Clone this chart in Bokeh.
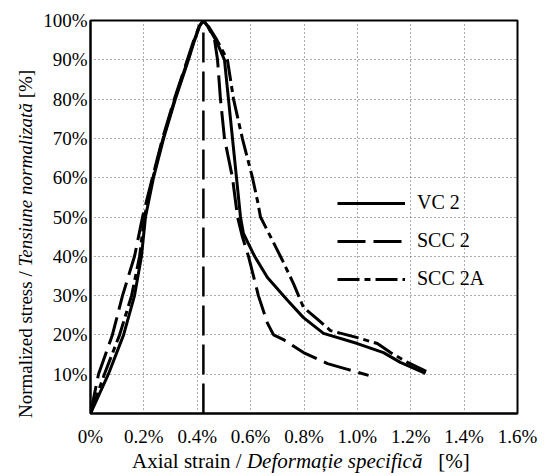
from bokeh.plotting import figure
from bokeh.models import (FixedTicker, PrintfTickFormatter, Legend, LegendItem,
                          Range1d, Div)
from bokeh.layouts import row, column
from bokeh.embed import file_html
from bokeh.resources import INLINE

# ---- data (strain in %, normalized stress in %) ----
vc2_x = [0, 0.067, 0.124, 0.165, 0.191, 0.206, 0.236, 0.274, 0.318, 0.367, 0.39,
         0.408, 0.423, 0.44, 0.47, 0.502, 0.517, 0.532, 0.547, 0.562, 0.573,
         0.615, 0.663, 0.738, 0.798, 0.873, 1.0, 1.098, 1.161, 1.255]
vc2_y = [0, 10, 20, 30, 40, 50, 60, 70, 80, 90, 95,
         98.5, 100, 98.5, 95, 90, 80, 70, 60, 50, 45.8,
         40, 34.6, 28.8, 24.4, 20.4, 17.8, 15.5, 13, 10.2]

scc2_x = [0, 0.030, 0.082, 0.120, 0.165, 0.195, 0.232, 0.27, 0.314, 0.363, 0.387,
          0.407, 0.423, 0.44, 0.465, 0.476, 0.487, 0.502, 0.532, 0.551, 0.569,
          0.592, 0.618, 0.629, 0.663, 0.686, 0.723, 0.798, 0.888, 0.96, 1.042]
scc2_y = [0, 10, 20, 30, 40, 50, 60, 70, 80, 90, 95,
          98.5, 100, 98.5, 95, 90, 80, 70, 60, 50, 45,
          40, 33, 30, 23, 20, 18.8, 15.5, 12.7, 11.3, 9.7]

scc2a_x = [0, 0.052, 0.109, 0.154, 0.184, 0.202, 0.234, 0.272, 0.316, 0.365, 0.389,
           0.408, 0.423, 0.442, 0.474, 0.513, 0.536, 0.569, 0.607, 0.626, 0.637,
           0.682, 0.719, 0.761, 0.798, 0.85, 0.899, 1.0, 1.075, 1.124, 1.188, 1.274]
scc2a_y = [0, 10, 20, 30, 40, 50, 60, 70, 80, 90, 95,
           98.5, 100, 98.5, 95, 90, 80, 70, 60, 54, 50,
           44, 39, 33, 27, 24, 21.1, 19.3, 17.8, 15.5, 13, 10.2]

peak_strain = 0.423
peak_line_y = [0, 100]

x_ticks = [0, 0.2, 0.4, 0.6, 0.8, 1.0, 1.2, 1.4, 1.6]
y_ticks = [10, 20, 30, 40, 50, 60, 70, 80, 90, 100]
labels = ["VC 2", "SCC 2", "SCC 2A"]

FONT = "Liberation Serif"

p = figure(frame_width=427, frame_height=393, output_backend="svg",
           toolbar_location=None, x_range=Range1d(0, 1.6), y_range=Range1d(0, 100),
           min_border_left=54, min_border_right=31, min_border_top=20,
           min_border_bottom=33)
p.background_fill_color = "white"
p.border_fill_color = "white"
p.outline_line_color = "black"
p.outline_line_width = 2

r1 = p.line(vc2_x, vc2_y, line_color="black", line_width=3)
r2 = p.line(scc2_x, scc2_y, line_color="black", line_width=3, line_dash="28 8")
p.line([peak_strain, peak_strain], peak_line_y, line_color="black", line_width=2.5,
       line_dash="30 9")
r3 = p.line(scc2a_x, scc2a_y, line_color="black", line_width=3, line_dash="22 5 6 5")

# axes
p.xaxis.ticker = FixedTicker(ticks=x_ticks)
p.yaxis.ticker = FixedTicker(ticks=y_ticks)
p.xaxis.formatter = PrintfTickFormatter(format="%.1f%%")
p.xaxis.major_label_overrides = {0: "0%"}
p.yaxis.formatter = PrintfTickFormatter(format="%d%%")
for ax in (p.xaxis, p.yaxis):
    ax.major_tick_in = 0
    ax.major_tick_out = 0
    ax.minor_tick_in = 0
    ax.minor_tick_out = 0
    ax.axis_line_color = "black"
    ax.axis_line_width = 2
    ax.major_label_text_font = FONT
    ax.major_label_text_font_size = "19px"
    ax.major_label_text_color = "black"
p.xaxis.major_label_standoff = 12
p.yaxis.major_label_standoff = 3

for g in (p.xgrid, p.ygrid):
    g.grid_line_color = "#555555"
    g.grid_line_dash = "1 3"
    g.grid_line_width = 1
p.xgrid.ticker = FixedTicker(ticks=[0.2, 0.4, 0.6, 0.8, 1.0, 1.2, 1.4])
p.ygrid.ticker = FixedTicker(ticks=[10, 20, 30, 40, 50, 60, 70, 80, 90])

# legend
legend = Legend(items=[LegendItem(label=labels[0], renderers=[r1]),
                       LegendItem(label=labels[1], renderers=[r2]),
                       LegendItem(label=labels[2], renderers=[r3])],
                location=(247, 123), padding=0, margin=0, spacing=15,
                glyph_width=68, glyph_height=20, label_height=20,
                label_standoff=12, border_line_color=None,
                background_fill_alpha=0, label_text_font=FONT,
                label_text_font_size="20px", label_text_color="black")
p.add_layout(legend, "center")

# axis titles with mixed upright / italic text
TXT = ("font-family:'Liberation Serif';color:black;"
       "white-space:nowrap;display:inline-block;")
ydiv = Div(width=36, height=446, margin=0,
           text=('<span style="' + TXT + 'font-size:19px;line-height:20px;'
                 'transform-origin:0 0;'
                 'transform:translate(16px,418px) rotate(-90deg);">'
                 'Normalized stress / <i>Tensiune normalizată</i> [%]</span>'))
xdiv = Div(width=548, height=26, margin=0,
           text=('<span style="' + TXT + 'font-size:21px;line-height:24px;'
                 'margin-left:132px;">'
                 'Axial strain / <i>Deformație specifică</i>&nbsp;&nbsp;&nbsp;[%]</span>'))

layout = column(row(ydiv, p), xdiv)
open("out.html", "w").write(file_html(layout, INLINE))
